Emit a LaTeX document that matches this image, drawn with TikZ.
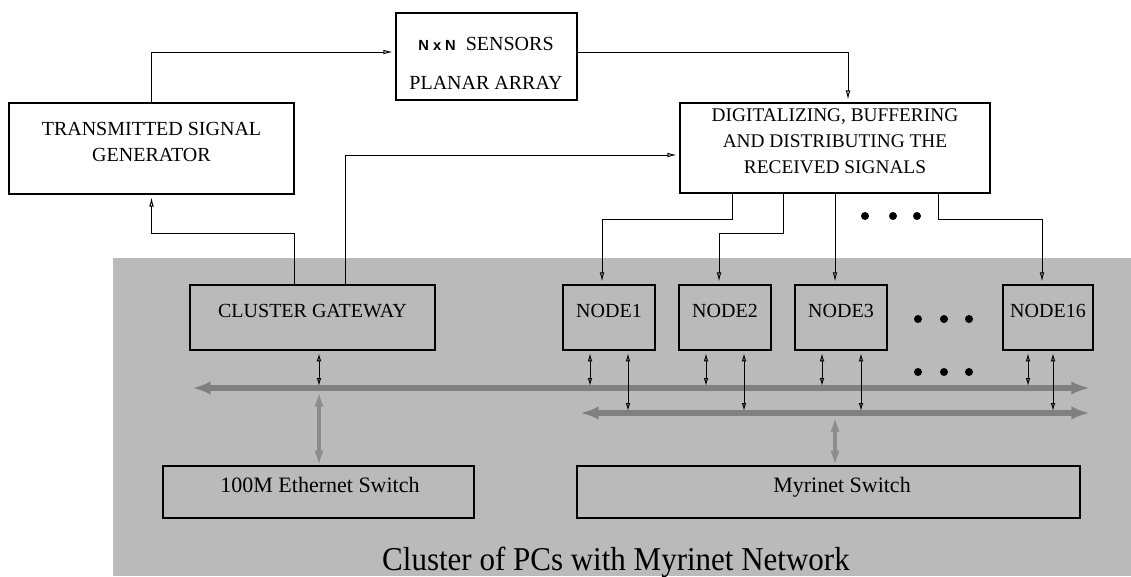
\documentclass[tikz,border=0pt]{standalone}
\usepackage{fontspec}
\usepackage{graphicx}
\setmainfont{Liberation Serif}
\newfontfamily\sensfont{Liberation Sans}
\usetikzlibrary{arrows.meta,fit}

\begin{document}
\begin{tikzpicture}[x=0.75pt, y=-0.75pt,
  box/.style={draw, line width=0.9pt, inner sep=0pt, align=center},
  boxtext/.style={font=\fontsize{15}{20}\selectfont},
  link/.style={draw, line width=0.75pt, shorten >=2pt, -{Latex[open,length=7pt,width=3.5pt]}},
  dlink/.style={draw, line width=0.75pt, shorten <=2pt, shorten >=1.5pt,
    {Latex[open,length=6pt,width=3.5pt]}-{Latex[open,length=6pt,width=3.5pt]}},
  bus/.style={draw=black!50, line width=4.5pt, {Latex[length=14pt,width=10pt]}-{Latex[length=14pt,width=10pt]}},
  uplink/.style={draw=black!45, line width=3.5pt, {Latex[length=11pt,width=7pt]}-{Latex[length=11pt,width=7pt]}},
  dot/.style={circle, fill=black, inner sep=0pt, minimum size=6pt}]
\useasboundingbox (0,0) rectangle (1131,576);

% cluster area
\node[fill=black!27, inner sep=0pt, fit={(113,258) (1131,576)}] (cluster) {};

% upper blocks
\node[box, boxtext, fit={(9,103) (294,194)}] (tsg) {TRANSMITTED SIGNAL\\GENERATOR};
\node[box, fit={(396,13) (577,100)}] (sens) {};
\node[boxtext] (sensA) at (486,44) {{\sensfont\bfseries\fontsize{11}{13}\selectfont N x N}\ \ SENSORS};
\node[boxtext] (sensB) at (486,83) {PLANAR ARRAY};
\node[box, font=\fontsize{14.5}{19.5}\selectfont, fit={(680,103) (990,193)}] (dig)
  {DIGITALIZING, BUFFERING\\AND DISTRIBUTING THE\\RECEIVED SIGNALS};

% cluster blocks
\node[box, boxtext, fit={(190,285) (435,350)}] (gw) {CLUSTER GATEWAY};
\node[box, boxtext, fit={(563,285) (655,350)}] (n1) {NODE1};
\node[box, boxtext, fit={(679,285) (771,350)}] (n2) {NODE2};
\node[box, boxtext, fit={(795,285) (887,350)}] (n3) {NODE3};
\node[box, boxtext, fit={(1003,285) (1093,350)}] (n16) {NODE16};
\node[box, fit={(163,466) (474,518)}] (eth) {};
\node[box, fit={(577,466) (1080,518)}] (myr) {};
\node[anchor=base, font=\fontsize{16.5}{20}\selectfont] (ethtext) at (320,492) {100M Ethernet Switch};
\node[anchor=base, font=\fontsize{16.5}{20}\selectfont] (myrtext) at (842,492) {Myrinet Switch};
\node[anchor=base, font=\fontsize{25}{30}\selectfont] (caption) at (616,570)
  {\scalebox{0.93}[1]{Cluster of PCs with Myrinet Network}};

% ellipsis dots
\foreach \x [count=\i] in {865,893,917} \node[dot] (da\i) at (\x,216) {};
\foreach \x [count=\i] in {918,944,969} {
  \node[dot] (db\i) at (\x,319) {};
  \node[dot] (dc\i) at (\x,372) {};
}

% bus ends
\coordinate (busUL) at (192,388);
\coordinate (busUR) at (1090,388);
\coordinate (busLL) at (580,413);
\coordinate (busLR) at (1090,413);

% signal paths
\draw[link] (tsg.north) |- (sens.west |- 0,52);
\draw[link] (sens.east |- 0,52) -| (848,0 |- dig.north);
\draw[link] (294,0 |- gw.north) -- (294,233) -| (tsg.south);
\draw[link] (345,0 |- gw.north) |- (dig.west |- 0,155);
\draw[link] (732,0 |- dig.south) -- (732,219) -| (602,0 |- n1.north);
\draw[link] (783,0 |- dig.south) -- (783,233) -| (719,0 |- n2.north);
\draw[link] (835,0 |- dig.south) -- (835,0 |- n3.north);
\draw[link] (938,0 |- dig.south) -- (938,219) -| (1042,0 |- n16.north);

% buses
\draw[bus] (busUL) -- (busUR);
\draw[bus] (busLL) -- (busLR);

% node to bus links
\draw[dlink] (319,0 |- gw.south) -- (319,0 |- busUL);
\foreach \n/\a/\b in {n1/590/628, n2/706/744, n3/822/861, n16/1028/1053} {
  \draw[dlink] (\a,0 |- \n.south) -- (\a,0 |- busUL);
  \draw[dlink] (\b,0 |- \n.south) -- (\b,0 |- busLL);
}

% switch links
\draw[uplink, shorten <=3pt] (319,0 |- busUL) -- (319,0 |- eth.north);
\draw[uplink, shorten <=3pt] (835,0 |- busLL) -- (835,0 |- myr.north);
\end{tikzpicture}
\end{document}
